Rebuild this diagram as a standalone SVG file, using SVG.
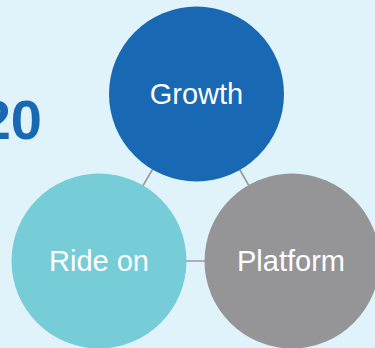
<svg xmlns="http://www.w3.org/2000/svg" width="375" height="348" viewBox="0 0 375 348">
  <style>
    .bg { fill: #e0f3fa; }
    .link { stroke: #9a9a9e; stroke-width: 1.6; fill: none; }
    .label { font-family: "Liberation Sans", Arial, sans-serif; font-size: 29px; fill: #ffffff; text-anchor: middle; }
    .year { font-family: "Liberation Sans", Arial, sans-serif; font-size: 56px; font-weight: bold; fill: #1868b3; text-anchor: end; }
  </style>
  <rect class="bg" x="0" y="0" width="375" height="348"/>
  <text class="year" x="42" y="139">20</text>
  <!-- connectors between the three circles (drawn under them) -->
  <g id="connectors">
    <line class="link" x1="196.5" y1="94" x2="99" y2="261"/>
    <line class="link" x1="196.5" y1="94" x2="292" y2="261"/>
    <line class="link" x1="99" y1="261" x2="292" y2="261"/>
  </g>
  <g id="growth">
    <circle cx="196.5" cy="94" r="87.5" fill="#1868b3"/>
    <text class="label" x="196.5" y="104">Growth</text>
  </g>
  <g id="ride-on">
    <circle cx="99" cy="261" r="87.5" fill="#76cdd8"/>
    <text class="label" x="99" y="271">Ride on</text>
  </g>
  <g id="platform">
    <circle cx="292" cy="261" r="87.5" fill="#959598"/>
    <text class="label" x="291" y="271">Platform</text>
  </g>
</svg>
